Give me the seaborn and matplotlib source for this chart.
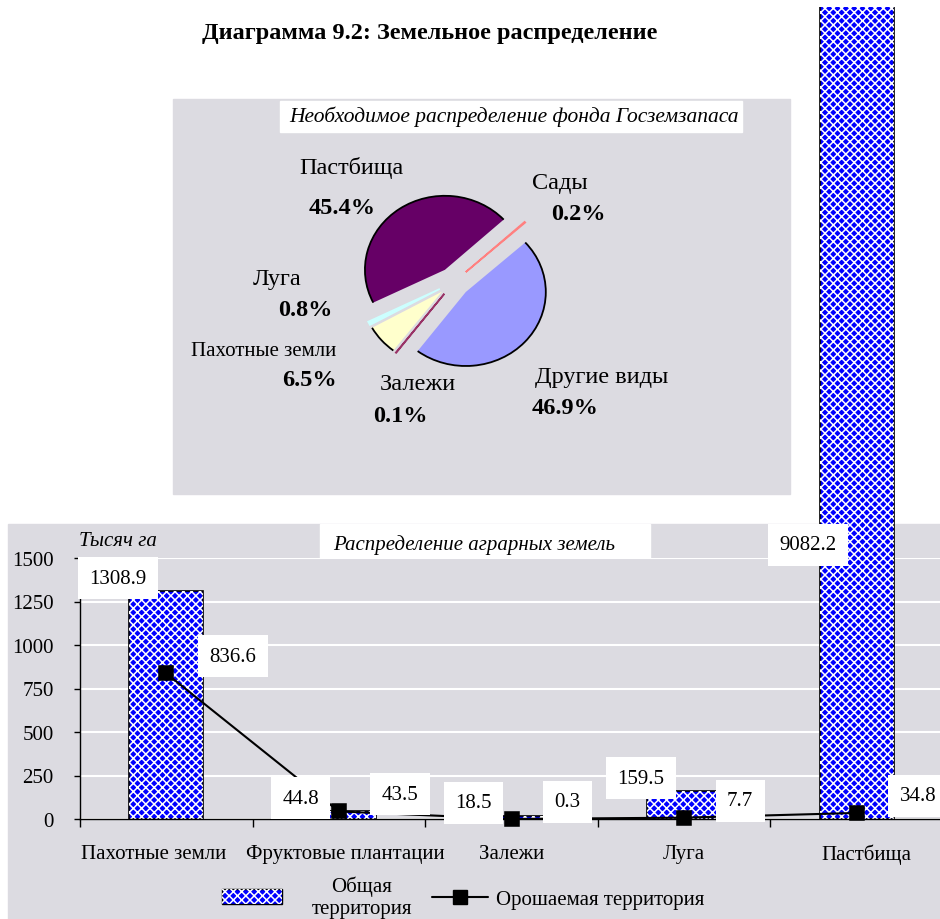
import numpy as np
import pandas as pd
import matplotlib
matplotlib.use("Agg")
import matplotlib.pyplot as plt
from matplotlib.patches import Rectangle, Arc, Patch
from matplotlib.lines import Line2D
from matplotlib.legend_handler import HandlerTuple
from matplotlib.transforms import Bbox, TransformedBbox, ScaledTranslation
import seaborn as sns

# pie: required distribution of the state land reserve (clockwise from ~1:30)
pie_labels = ["Другие виды", "Залежи", "Пахотные земли", "Луга", "Пастбища", "Сады"]
pie_shares = [46.9, 0.1, 6.5, 0.8, 45.4, 0.2]
pie_colors = ["#9999ff", "#993366", "#ffffcc", "#ccffff", "#660066", "#ff8080"]

# bars + line: agrarian land, thousand ha
categories = ["Пахотные земли", "Фруктовые плантации", "Залежи", "Луга", "Пастбища"]
total_area = [1308.9, 44.8, 18.5, 159.5, 9082.2]
irrigated_area = [836.6, 43.5, 0.3, 7.7, 34.8]
y_ticks = [0, 250, 500, 750, 1000, 1250, 1500]

W, H = 940, 920


def fx(px):
    return px / W


def fy(py):
    return 1 - py / H


sns.set_theme(style="white")
plt.rcParams["font.family"] = ["Liberation Serif", "DejaVu Serif"]
plt.rcParams["text.color"] = "black"
plt.rcParams["xtick.color"] = "black"
plt.rcParams["ytick.color"] = "black"
plt.rcParams["hatch.linewidth"] = 1.1

grey = "#dcdbe1"
blue = "#0000ff"

fig = plt.figure(figsize=(9.4, 9.2), dpi=100)
fig.patch.set_facecolor("white")

# background panels
fig.add_artist(Rectangle((fx(173), fy(495)), (790 - 173) / W, (495 - 100) / H,
                         transform=fig.transFigure, color=grey, zorder=-2))
fig.add_artist(Rectangle((fx(8), 0), 1 - fx(8), fy(525),
                         transform=fig.transFigure, color=grey, zorder=-2))

fig.text(fx(430), fy(33), "Диаграмма 9.2: Земельное распределение",
         ha="center", va="center", fontsize=17.5, fontweight="bold")

# ---------- pie ----------
fig.add_artist(Rectangle((fx(280), fy(133)), (742 - 280) / W, (133 - 102) / H,
                         transform=fig.transFigure, color="white", zorder=-1))
fig.text(fx(514), fy(117), "Необходимое распределение фонда Госземзапаса",
         ha="center", va="center", fontsize=15.5, style="italic")

cx, cy, rx, ry = 454, 283, 80, 74
lim = 1.3
pax = fig.add_axes([fx(cx - lim * rx), fy(cy + lim * ry), 2 * lim * rx / W, 2 * lim * ry / H])
wedges, _ = pax.pie(pie_shares, colors=pie_colors, startangle=42, counterclock=False,
                    explode=[0.2] * len(pie_shares),
                    wedgeprops=dict(edgecolor="none", linewidth=0))
pax.set_aspect("auto")
pax.set_xlim(-lim, lim)
pax.set_ylim(-lim, lim)
pax.axis("off")
for w in wedges:
    if w.theta2 - w.theta1 > 5:
        pax.add_patch(Arc(w.center, 2 * w.r, 2 * w.r, theta1=w.theta1, theta2=w.theta2,
                          color="black", lw=1.3))
    else:
        # thin slivers stay visible as coloured strokes
        w.set_edgecolor(w.get_facecolor())
        w.set_linewidth(1.2)

pie_text_pos = {
    "Пастбища": ((351, 168), (342, 208)),
    "Сады": ((560, 183), (578, 215)),
    "Луга": ((277, 280), (305, 311)),
    "Пахотные земли": ((264, 351), (309, 381)),
    "Залежи": ((418, 385), (400, 416)),
    "Другие виды": ((602, 378), (565, 409)),
}
for name, share in zip(pie_labels, pie_shares):
    (nx, ny), (px_, py_) = pie_text_pos[name]
    fig.text(fx(nx), fy(ny), name, ha="center", va="center",
             fontsize=15 if name == "Пахотные земли" else 17.5)
    fig.text(fx(px_), fy(py_), f"{share}%", ha="center", va="center",
             fontsize=17.5, fontweight="bold")

# ---------- bars ----------
ax = fig.add_axes([fx(80), fy(820), 863 / W, (820 - 559) / H])
ax.set_facecolor(grey)
df = pd.DataFrame({"cat": categories, "total": total_area, "irr": irrigated_area})
sns.barplot(data=df, x="cat", y="total", color=blue, saturation=1, width=0.43,
            edgecolor="black", linewidth=1.2, ax=ax, zorder=2)

fig_clip = TransformedBbox(Bbox([[0, 0], [1, fy(8)]]), fig.transFigure)
bars = list(ax.patches)
for i, bar in enumerate(bars):
    over = Rectangle(bar.get_xy(), bar.get_width(), bar.get_height(), facecolor="none",
                     edgecolor="white", hatch="xxxx", lw=0, zorder=2.5)
    ax.add_patch(over)
    if total_area[i] > y_ticks[-1]:
        for p in (bar, over):
            p.set_clip_path(None)
            p.set_clip_box(fig_clip)

sns.pointplot(data=df, x="cat", y="irr", color="black", markers="s", markersize=10,
              linewidth=1.5, errorbar=None, ax=ax)
for ln in ax.lines:
    ln.set_zorder(4)
    ln.set_clip_on(False)

ax.set_ylim(0, 1500)
ax.set_xlim(-0.5, len(categories) - 0.5)
ax.set_yticks(y_ticks)
ax.set_xlabel("")
ax.set_ylabel("")
ax.yaxis.grid(True, color="white", lw=1.5)
ax.set_axisbelow(True)
for s in ["top", "right"]:
    ax.spines[s].set_visible(False)
for s in ["left", "bottom"]:
    ax.spines[s].set_color("black")
    ax.spines[s].set_linewidth(1)
ax.tick_params(axis="y", left=True, length=4, width=1, pad=15, labelsize=15)
ax.tick_params(axis="x", which="major", bottom=False, pad=12, labelsize=15)
ax.set_xticks(np.arange(-0.5, len(categories)), minor=True)
ax.tick_params(axis="x", which="minor", bottom=True, length=6, width=1)

# category names nudged as in the original
for tick, dx in zip(ax.xaxis.get_major_ticks(), (-13, 6, 0, 0, 10)):
    lbl = tick.label1
    lbl.set_transform(lbl.get_transform() + ScaledTranslation(dx / 100, 0, fig.dpi_scale_trans))

box = dict(boxstyle="square,pad=0.55", fc="white", ec="none")
for i, v in enumerate(total_area):
    ax.annotate(f"{v}", xy=(i, min(v, y_ticks[-1])), xytext=(-20, 13),
                textcoords="offset pixels", ha="right", va="center", fontsize=15,
                bbox=box, annotation_clip=False, zorder=5)
for i, v in enumerate(irrigated_area):
    ax.annotate(f"{v}", xy=(i, v), xytext=(43, 17), textcoords="offset pixels",
                ha="left", va="center", fontsize=15, bbox=box,
                annotation_clip=False, zorder=5)

fig.text(fx(118), fy(542), "Тысяч га", ha="center", va="center", fontsize=15, style="italic")
fig.add_artist(Rectangle((fx(320), fy(568)), (650 - 320) / W, (568 - 525) / H,
                         transform=fig.transFigure, color="white", zorder=-1))
fig.text(fx(474), fy(545), "Распределение аграрных земель", ha="center", va="center",
         fontsize=15, style="italic")

# legend (two pieces, placed like the original)
h_bar = (Patch(facecolor=blue, edgecolor="black", lw=1),
         Patch(facecolor="none", edgecolor="white", hatch="xxxx", lw=0))
h_line = Line2D([], [], color="black", marker="s", markersize=10, lw=1.5)
leg1 = fig.legend([h_bar], ["Общая\nтерритория"],
                  handler_map={tuple: HandlerTuple(ndivide=1, pad=0)},
                  loc="center", bbox_to_anchor=(fx(317), fy(898)), frameon=False,
                  fontsize=15, handlelength=2.9, handleheight=0.75, handletextpad=1.4)
for t in leg1.get_texts():
    t.set_multialignment("center")
fig.legend([h_line], ["Орошаемая территория"], loc="center",
           bbox_to_anchor=(fx(568), fy(900)), frameon=False, fontsize=15,
           handlelength=2.7, handletextpad=0.35)

fig.savefig("out.png", dpi=100)
